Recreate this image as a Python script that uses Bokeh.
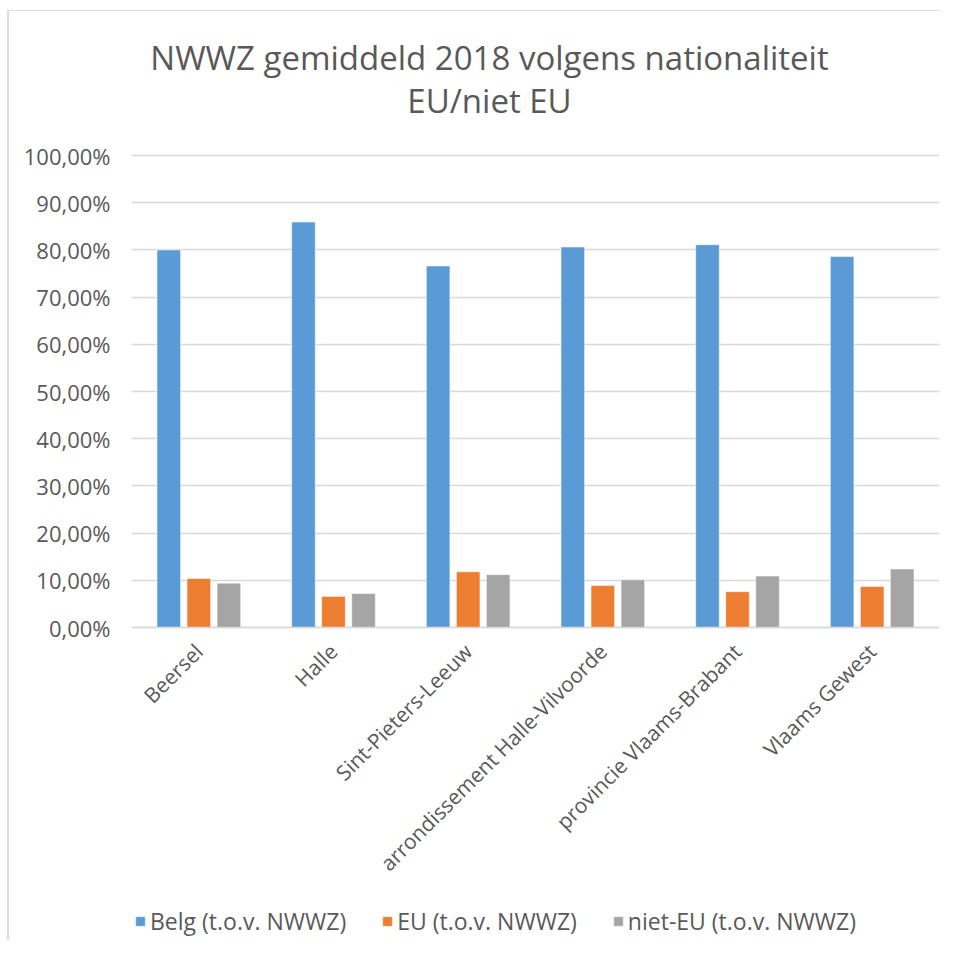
import math
from bokeh.plotting import figure
from bokeh.models import (ColumnDataSource, Range1d, FactorRange, Legend, LegendItem,
                          Label, CustomJSTickFormatter, FixedTicker)
from bokeh.transform import dodge
from bokeh.embed import file_html
from bokeh.resources import INLINE

categories = ["Beersel", "Halle", "Sint-Pieters-Leeuw", "arrondissement Halle-Vilvoorde",
              "provincie Vlaams-Brabant", "Vlaams Gewest"]
belg = [80.0, 85.9, 76.6, 80.6, 81.1, 78.6]
eu = [10.4, 6.6, 11.8, 8.9, 7.6, 8.7]
niet_eu = [9.4, 7.2, 11.2, 10.1, 10.9, 12.4]
series_names = ["Belg (t.o.v. NWWZ)", "EU (t.o.v. NWWZ)", "niet-EU (t.o.v. NWWZ)"]
y_ticks = [0, 10, 20, 30, 40, 50, 60, 70, 80, 90, 100]
title_lines = ["NWWZ gemiddeld 2018 volgens nationaliteit", "EU/niet EU"]

colors = ["#5B9BD5", "#ED7D31", "#A5A5A5"]
TXT = "#595959"
FONT = "Open Sans"

src = ColumnDataSource(dict(cat=categories, belg=belg, eu=eu, niet=niet_eu))

frame_css = ("linear-gradient(#DDDDDD, #DDDDDD) 7px 10px / 2px calc(100% - 10px) no-repeat, "
             "linear-gradient(#DDDDDD, #DDDDDD) 7px 10px / calc(100% - 7px) 1px no-repeat, white")

p = figure(width=940, height=940, x_range=FactorRange(*categories, range_padding=0),
           y_range=Range1d(-66.3, 132.84), output_backend="svg", toolbar_location=None,
           min_border_left=131, min_border_right=1, min_border_top=0, min_border_bottom=0,
           styles={"background": frame_css})
p.outline_line_color = None
p.background_fill_color = None
p.border_fill_color = None

rs = []
for key, off, col in zip(["belg", "eu", "niet"], [-0.223, 0.0, 0.223], colors):
    r = p.vbar(x=dodge("cat", off, range=p.x_range), top=key, width=0.175, source=src,
               fill_color=col, line_color="white", line_width=0.5)
    rs.append(r)

p.xgrid.grid_line_color = None
p.ygrid.grid_line_color = "#D9D9D9"
p.ygrid.grid_line_width = 1.3
p.yaxis.ticker = FixedTicker(ticks=y_ticks)
p.ygrid.ticker = FixedTicker(ticks=y_ticks)
p.yaxis.formatter = CustomJSTickFormatter(code="return tick.toFixed(2).replace('.', ',') + '%';")
p.yaxis.axis_line_color = None
p.yaxis.major_tick_line_color = None
p.yaxis.minor_tick_line_color = None
p.yaxis.major_label_text_font = FONT
p.yaxis.major_label_text_font_size = "22px"
p.yaxis.major_label_text_color = TXT
p.yaxis.major_label_standoff = 15

p.xaxis.fixed_location = 0
p.xaxis.axis_line_color = "#D9D9D9"
p.xaxis.axis_line_width = 1.3
p.xaxis.major_tick_line_color = None
p.xaxis.minor_tick_line_color = None
p.xaxis.major_label_orientation = math.pi / 4
p.xaxis.major_label_text_font = FONT
p.xaxis.major_label_text_font_size = "21px"
p.xaxis.major_label_text_color = TXT
p.xaxis.major_label_standoff = 14

legend = Legend(items=[LegendItem(label=n, renderers=[r]) for n, r in zip(series_names, rs)],
                orientation="horizontal", location=(3, 3), spacing=35,
                glyph_width=12, glyph_height=12, label_text_font=FONT,
                label_text_font_size="23px", label_text_color=TXT, label_standoff=4,
                border_line_color=None, background_fill_alpha=0, padding=0, margin=0)
p.add_layout(legend, "center")

for t, yv in zip(title_lines, [120.76, 111.65]):
    p.add_layout(Label(x=358, y=yv, x_units="screen", y_units="data", text=t,
                       text_font=FONT, text_font_size="33px", text_color=TXT,
                       text_align="center", text_baseline="middle"))

open("out.html", "w").write(file_html(p, INLINE))
